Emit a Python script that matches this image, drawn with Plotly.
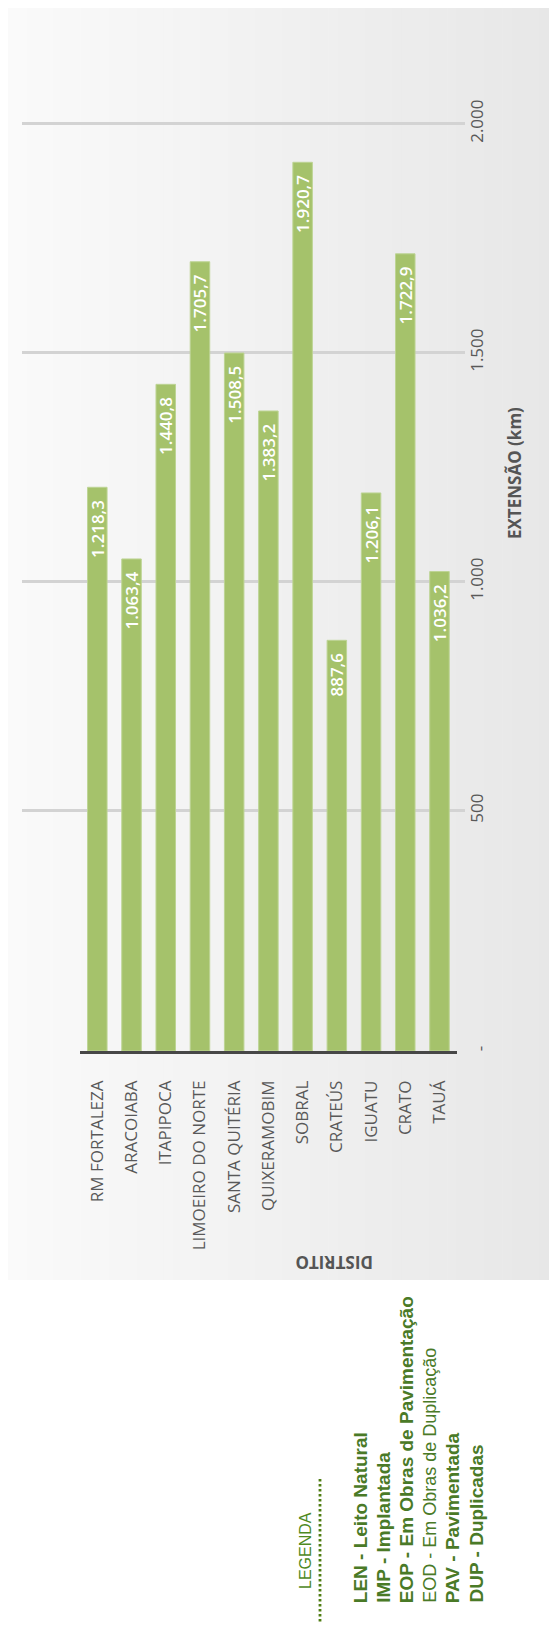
import plotly.graph_objects as go

# ---------------- data ----------------
categories = ["RM FORTALEZA", "ARACOIABA", "ITAPIPOCA", "LIMOEIRO DO NORTE",
              "SANTA QUITÉRIA", "QUIXERAMOBIM", "SOBRAL", "CRATEÚS",
              "IGUATU", "CRATO", "TAUÁ"]
extensao_km = [1218.3, 1063.4, 1440.8, 1705.7, 1508.5, 1383.2,
               1920.7, 887.6, 1206.1, 1722.9, 1036.2]
grid_ticks = [500, 1000, 1500, 2000]
zero_tick = [0]
zero_tick_text = ["-"]
value_axis_title = "EXTENSÃO (km)"
category_axis_title = "DISTRITO"
legend_title = "LEGENDA"
legend_items = ["LEN - Leito Natural", "IMP - Implantada",
                "EOP - Em Obras de Pavimentação", "EOD - Em Obras de Duplicação",
                "PAV - Pavimentada", "DUP - Duplicadas"]
legend_bold = [True, True, True, False, True, True]

# ---------------- helpers ----------------
# the page body has an 8px default margin: the figure starts at (8, 8)
OFF = 8
PAGE_W, PAGE_H = 557, 1625
W, H = PAGE_W - OFF, PAGE_H - OFF


def px(p):
    return (p - OFF) / W


def py(p):
    return 1 - (p - OFF) / H


FONT = "Open Sans"
GRAY = "#595959"
GREEN = "#4a7a27"

fig = go.Figure()

# empty trace so that the grid subplot (x / y) is created and drawn first
fig.add_trace(go.Scatter(x=[], y=[], xaxis="x", yaxis="y", mode="markers",
                         hoverinfo="skip"))

fig.add_trace(go.Bar(
    x=categories, y=extensao_km, xaxis="x2", yaxis="y2",
    marker=dict(color="#a5c26b", line=dict(color="#bdd494", width=1)),
    texttemplate="%{y:,.1f}<span style='color:rgba(0,0,0,0)'>0</span>",
    textposition="inside", insidetextanchor="end", textangle=-90,
    textfont=dict(color="white", size=17, family=FONT, weight=600),
    hoverinfo="skip", cliponaxis=False,
))

# gradient background (vertical strips)
shapes = []
n = 60
x0p, x1p = 8, 557
left = (250, 250, 250)
right = (231, 231, 231)
for i in range(n):
    t = i / (n - 1)
    c = tuple(round(left[k] + (right[k] - left[k]) * t) for k in range(3))
    xa = x0p + (x1p - x0p) * i / n
    xb = x0p + (x1p - x0p) * (i + 1) / n + 0.6
    shapes.append(dict(type="rect", xref="paper", yref="paper",
                       x0=px(xa), x1=px(min(xb, PAGE_W)), y0=py(1280), y1=1,
                       fillcolor="rgb(%d,%d,%d)" % c, line=dict(width=0),
                       layer="below"))

# dotted underline of the legend title
shapes.append(dict(type="line", xref="paper", yref="paper",
                   x0=px(320), x1=px(320), y0=py(1479), y1=py(1622),
                   line=dict(color="#4f7d12", width=2.8, dash="2.6px,2.4px"),
                   layer="above"))

annotations = [
    dict(text="<b>%s</b>" % value_axis_title, xref="paper", yref="paper",
         x=px(514), y=py(473), showarrow=False, textangle=-90,
         font=dict(family=FONT, size=17, color="#555555"),
         xanchor="center", yanchor="middle"),
    dict(text="<b>%s</b>" % category_axis_title, xref="paper", yref="paper",
         x=px(334), y=py(1263), showarrow=False, textangle=180,
         font=dict(family=FONT, size=17, color="#555555"),
         xanchor="center", yanchor="middle"),
    dict(text=legend_title, xref="paper", yref="paper",
         x=px(305), y=py(1551), showarrow=False, textangle=-90,
         font=dict(family="Liberation Sans", size=16, color="#4f8a1f"),
         xanchor="center", yanchor="middle"),
]
leg_x = [360.7, 383.3, 406.7, 429.3, 452.7, 475.5]
for item, bold, lx in zip(legend_items, legend_bold, leg_x):
    annotations.append(dict(
        text=("<b>%s</b>" % item) if bold else item,
        xref="paper", yref="paper", x=px(lx), y=py(1605),
        showarrow=False, textangle=-90,
        font=dict(family="Liberation Sans", size=19 if bold else 18, color=GREEN),
        xanchor="center", yanchor="bottom"))

fig.update_layout(
    width=W, height=H, margin=dict(l=0, r=0, t=0, b=0),
    paper_bgcolor="white", plot_bgcolor="rgba(0,0,0,0)",
    separators=",.", showlegend=False, bargap=0.43,
    uniformtext=dict(minsize=17, mode="show"),
    shapes=shapes, annotations=annotations,
    # grid subplot (drawn first, under the bars)
    xaxis=dict(domain=[px(22), px(464.7)], anchor="y", range=[0, 1],
               showgrid=False, zeroline=False, showticklabels=False,
               showline=False, fixedrange=True),
    yaxis=dict(domain=[py(1052), 1], anchor="x",
               range=[-26.9, -26.9 + (1052 - OFF) / 0.458],
               side="right", tickvals=grid_ticks, tickformat=",",
               tickangle=-90, showgrid=True, gridcolor="#d3d3d3", gridwidth=2.5,
               zeroline=False, ticks="",
               tickfont=dict(family=FONT, size=17, color=GRAY)),
    # bar subplot
    xaxis2=dict(domain=[px(80.2), px(456.6)], anchor="y2", tickangle=-90,
                ticks="outside", ticklen=20, tickcolor="rgba(0,0,0,0)",
                showline=True, linecolor="#474747", linewidth=2.5,
                showgrid=False, zeroline=False,
                tickfont=dict(family=FONT, size=17, color=GRAY)),
    yaxis2=dict(domain=[py(1051), 1], anchor="x2",
                range=[0, (1051 - OFF) / 0.4627],
                side="right", tickvals=zero_tick, ticktext=zero_tick_text,
                tickangle=-90, showgrid=False, zeroline=False,
                ticks="outside", ticklen=8, tickcolor="rgba(0,0,0,0)",
                tickfont=dict(family=FONT, size=17, color=GRAY)),
)

fig.write_html("out.html")
